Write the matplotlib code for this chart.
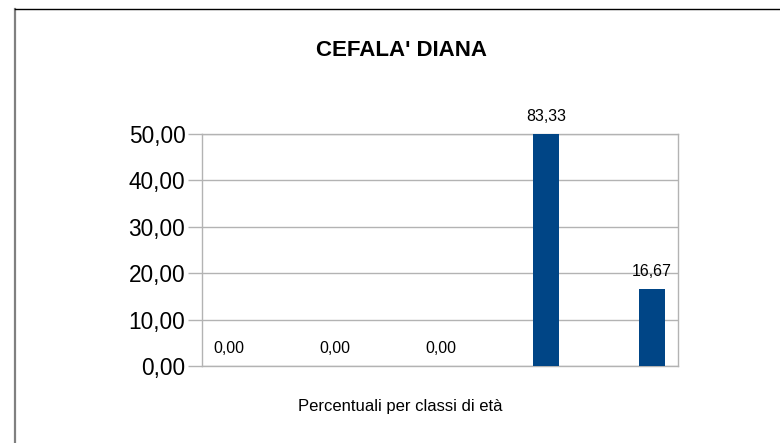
import matplotlib
matplotlib.use("Agg")
import matplotlib.pyplot as plt
from matplotlib.lines import Line2D

plt.rcParams['font.family'] = ['Liberation Sans', 'DejaVu Sans']

title = "CEFALA' DIANA"
xlabel = "Percentuali per classi di età"
categories = ["1", "2", "3", "4", "5"]
values = [0.0, 0.0, 0.0, 83.33, 16.67]
yticks = [0, 10, 20, 30, 40, 50]
ymax = 50

W, H = 780, 443
fig = plt.figure(figsize=(W / 100, H / 100), dpi=100)

# outer frame
fig.add_artist(Line2D([15 / W, 15 / W], [0, 1 - 9 / H], transform=fig.transFigure,
                      color='#808080', lw=1.6))
fig.add_artist(Line2D([15 / W, 1], [1 - 9 / H, 1 - 9 / H], transform=fig.transFigure,
                      color='#000000', lw=1.0))

ax = fig.add_axes([202 / W, 1 - 366 / H, (678 - 202) / W, (366 - 134) / H])
x = list(range(len(categories)))
ax.bar(x, [min(v, ymax) for v in values], width=0.25, color='#004586', zorder=3)
ax.set_xlim(-0.255, 4.246)
ax.set_ylim(0, ymax)
ax.set_yticks(yticks)
ax.set_yticklabels([f"{t:.2f}".replace('.', ',') for t in yticks], fontsize=16.3)
ax.set_xticks([])
ax.grid(axis='y', color='#b3b3b3', lw=1.0, zorder=0)
for s in ['left', 'right', 'bottom', 'top']:
    ax.spines[s].set_color('#b3b3b3')
    ax.spines[s].set_linewidth(1.0)
ax.tick_params(axis='y', length=10, color='#b3b3b3', width=1.0, pad=2)

for xi, v in zip(x, values):
    ax.annotate(f"{v:.2f}".replace('.', ','), (xi, min(v, ymax)), xytext=(0, 12.5),
                textcoords='offset points', ha='center', va='center', fontsize=11.5,
                color='#000000', annotation_clip=False)

fig.text(402 / W, 1 - 50 / H, title, ha='center', va='center', fontsize=16,
         fontweight='bold')
fig.text(400 / W, 1 - 406 / H, xlabel, ha='center', va='center', fontsize=12)

fig.savefig("out.png", dpi=100)
